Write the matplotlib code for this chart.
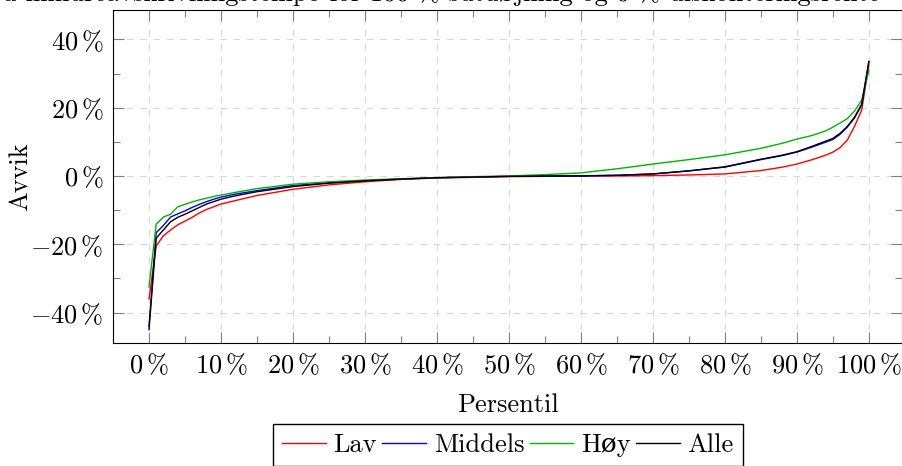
import matplotlib
matplotlib.use("Agg")
import matplotlib.pyplot as plt
from matplotlib.ticker import MultipleLocator, FuncFormatter

plt.rcParams['font.family'] = ['cmr10', 'DejaVu Serif']
plt.rcParams['mathtext.fontset'] = 'cm'
plt.rcParams['axes.unicode_minus'] = False
plt.rcParams['font.size'] = 19

# percentiles
persentil = [0, 1, 2, 3, 4, 5, 6, 7, 8, 9, 10, 12, 15, 20, 25, 30, 35, 40, 45, 50,
             55, 60, 62, 65, 70, 75, 80, 85, 88, 90, 92, 94, 95, 96, 97, 98, 99, 100]

lav = [-36, -20.5, -17.5, -15.8, -14.3, -13.2, -12.1, -10.8, -9.8, -9.0, -8.2, -7.2, -5.7,
       -3.9, -2.6, -1.7, -1.0, -0.6, -0.4, -0.2, -0.1, 0.0, 0.0, 0.0, 0.1, 0.3, 0.6, 1.6,
       2.6, 3.5, 4.7, 6.1, 7.0, 8.3, 10.5, 14.5, 19.3, 32.5]
middels = [-44, -16.6, -14.5, -12.0, -11.1, -10.2, -9.2, -8.3, -7.5, -6.8, -6.2, -5.3, -4.3,
           -2.8, -2.0, -1.4, -0.9, -0.5, -0.3, -0.1, 0.0, 0.0, 0.1, 0.2, 0.6, 1.5, 2.6, 4.8,
           6.0, 7.0, 8.4, 9.9, 10.7, 12.2, 14.3, 17.0, 20.8, 33.5]
hoy = [-32.5, -14.1, -12.0, -11.2, -9.0, -8.3, -7.6, -7.0, -6.5, -6.0, -5.6, -4.8, -3.7,
       -2.4, -1.7, -1.2, -0.8, -0.5, -0.2, 0.0, 0.4, 0.9, 1.4, 2.1, 3.5, 4.8, 6.2, 8.1,
       9.6, 10.8, 11.8, 13.2, 14.3, 15.5, 16.8, 19.0, 22.2, 31.0]
alle = [-45, -18.2, -15.8, -13.4, -12.1, -11.2, -10.2, -9.2, -8.2, -7.5, -6.8, -5.8, -4.6,
        -3.1, -2.1, -1.4, -0.9, -0.5, -0.3, -0.1, 0.0, 0.0, 0.1, 0.2, 0.6, 1.5, 2.7, 4.9,
        6.1, 7.1, 8.6, 10.2, 11.0, 12.5, 14.5, 17.2, 21.0, 33.5]

series = [("Lav", lav, "#ff0000"), ("Middels", middels, "#0000ff"),
          ("H\u00f8y", hoy, "#00b400"), ("Alle", alle, "#000000")]

fig = plt.figure(figsize=(9.03, 4.66), dpi=100)
ax = fig.add_axes([113 / 903, 1 - 343 / 466, 789 / 903, 333 / 466])

for name, vals, col in series:
    ax.plot(persentil, vals, color=col, lw=1.0, label=name)

ax.set_xlim(-5, 104.6)
ax.set_ylim(-48.9, 48.6)
ax.xaxis.set_major_locator(MultipleLocator(10))
ax.xaxis.set_minor_locator(MultipleLocator(5))
ax.yaxis.set_major_locator(MultipleLocator(20))
ax.yaxis.set_minor_locator(MultipleLocator(10))
pct = FuncFormatter(lambda v, p: r'$%d\,\%%$' % round(v))
ax.xaxis.set_major_formatter(pct)
ax.yaxis.set_major_formatter(pct)

ax.tick_params(which='both', direction='in', top=True, right=True, color='#808080')
ax.tick_params(which='major', length=8, width=0.8, pad=7)
ax.tick_params(which='minor', length=5, width=0.8)
ax.grid(True, which='major', color='#d8d8d8', linestyle=(0, (6, 6)), lw=0.8)
for s in ax.spines.values():
    s.set_linewidth(0.8)

ax.set_xlabel("Persentil")
ax.xaxis.set_label_coords(0.5, -0.15)
ax.set_ylabel("Avvik")
ax.yaxis.set_label_coords(-0.103, 0.5)

# title sits mostly above the top edge, only its lower part shows
fig.text(880 / 903, 1 - 0.5 / 466,
         "Avvik ved mindreavskrivningstempo for 100 % sutd\u00f8jning og 0 % diskonteringsrente",
         ha='right', va='baseline')

fig.legend(loc='upper center', bbox_to_anchor=(508 / 903, 1 - 424 / 466), ncol=4,
           frameon=True, fancybox=False, edgecolor='black', framealpha=1, borderaxespad=0,
           handlelength=1.65, handletextpad=0.3, columnspacing=0.2, borderpad=0.35)

fig.savefig("out.png", dpi=100)
